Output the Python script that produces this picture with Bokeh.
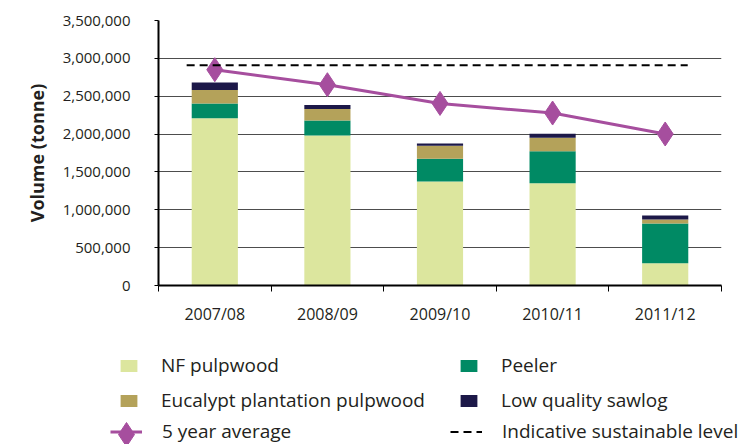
from bokeh.plotting import figure
from bokeh.models import (ColumnDataSource, FixedTicker, NumeralTickFormatter, Legend,
                          LegendItem, Range1d)
from bokeh.embed import file_html
from bokeh.resources import INLINE

# ---------------- data ----------------
years = ["2007/08", "2008/09", "2009/10", "2010/11", "2011/12"]
nf_pulpwood = [2210000, 1980000, 1372000, 1350000, 294000]
peeler = [195000, 200000, 303000, 422000, 524000]
eucalypt_pulpwood = [177000, 150000, 172000, 181000, 53000]
low_quality_sawlog = [100000, 53000, 30000, 52000, 52000]
five_year_average = [2850000, 2652000, 2405000, 2278000, 2001000]
sustainable_level = 2910000
y_ticks = [0, 500000, 1000000, 1500000, 2000000, 2500000, 3000000, 3500000]

series_names = ["NF pulpwood", "Peeler", "Eucalypt plantation pulpwood", "Low quality sawlog"]
line_names = ["5 year average", "Indicative sustainable level"]
colors = ["#DCE69E", "#008A64", "#B4A25A", "#1C1848"]
avg_color = "#A64E9E"
FONT = "Open Sans"
TXT = "#231F20"

xs = [i + 0.5 for i in range(len(years))]
source = ColumnDataSource(dict(x=xs, nf=nf_pulpwood, peel=peeler, euc=eucalypt_pulpwood,
                               low=low_quality_sawlog, avg=five_year_average))

W = 753
p = figure(width=W, height=330, output_backend="svg", toolbar_location=None,
           x_range=Range1d(0, len(years)), y_range=Range1d(y_ticks[0], y_ticks[-1]),
           min_border_left=158, min_border_right=32, min_border_top=20, min_border_bottom=45)
p.outline_line_color = None

bar_style = dict(width=0.41, line_color=None)
line_style = dict(line_color=avg_color, line_width=3)
marker_style = dict(marker="diamond", fill_color=avg_color, line_color=avg_color)
sus_style = dict(line_color="black", line_width=2, line_dash="8 5")


def draw(fig, marker_size):
    b = fig.vbar_stack(["nf", "peel", "euc", "low"], x="x", color=colors, source=source,
                       **bar_style)
    ln = fig.line("x", "avg", source=source, **line_style)
    mk = fig.scatter("x", "avg", source=source, size=marker_size, **marker_style)
    sg = fig.segment(x0=[xs[0] - 0.25], x1=[xs[-1] + 0.2], y0=[sustainable_level],
                     y1=[sustainable_level], **sus_style)
    return b, ln, mk, sg


draw(p, 24)

# ---------------- axes ----------------
xa = p.xaxis[0]
xa.ticker = FixedTicker(ticks=xs, minor_ticks=list(range(len(years) + 1)))
xa.major_label_overrides = {x: y for x, y in zip(xs, years)}
xa.major_tick_out = 0
xa.major_tick_in = 0
xa.minor_tick_out = 6
xa.minor_tick_in = 0
xa.minor_tick_line_color = "black"
xa.axis_line_color = "black"
xa.axis_line_width = 2
xa.major_label_standoff = 11
xa.major_label_text_font = FONT
xa.major_label_text_font_size = "16px"
xa.major_label_text_color = TXT

ya = p.yaxis[0]
ya.ticker = FixedTicker(ticks=y_ticks, minor_ticks=[])
ya.formatter = NumeralTickFormatter(format="0,0")
ya.major_tick_out = 4
ya.major_tick_in = 0
ya.major_tick_line_color = "black"
ya.axis_line_color = "black"
ya.axis_line_width = 2
ya.major_label_standoff = 24
ya.major_label_text_font = FONT
ya.major_label_text_font_size = "15px"
ya.major_label_text_color = TXT
ya.axis_label = "Volume (tonne)"
ya.axis_label_text_font = FONT
ya.axis_label_text_font_size = "18px"
ya.axis_label_text_font_style = "bold"
ya.axis_label_text_color = TXT
ya.axis_label_standoff = 11

p.xgrid.visible = False
p.ygrid.ticker = FixedTicker(ticks=y_ticks)
p.ygrid.grid_line_color = "#4d4d4d"
p.ygrid.grid_line_width = 1

# ---------------- legend panel (separate root, its data kept out of view) ----------------
LH = 114
lf = figure(width=W, height=LH, output_backend="svg", toolbar_location=None,
            x_axis_type=None, y_axis_type=None, min_border=0,
            x_range=Range1d(-20, -10), y_range=Range1d(-2e7, -1e7))
lf.outline_line_color = None
lf.grid.visible = False

lbars, lline, lmark, lsus = draw(lf, 24)


def make_legend(items, loc, gw, gh, standoff, lw):
    lg = Legend(items=items, location=loc, orientation="horizontal",
                glyph_width=gw, glyph_height=gh, label_standoff=standoff,
                label_width=lw, label_height=26, spacing=0, padding=0, margin=0,
                border_line_color=None, background_fill_alpha=0,
                label_text_font=FONT, label_text_font_size="19px",
                label_text_color=TXT)
    lf.add_layout(lg, "center")
    return lg


make_legend([LegendItem(label=series_names[0], renderers=[lbars[0]]),
             LegendItem(label=series_names[1], renderers=[lbars[1]])],
            (118, 66), 21, 15, 22, 297)
make_legend([LegendItem(label=series_names[2], renderers=[lbars[2]]),
             LegendItem(label=series_names[3], renderers=[lbars[3]])],
            (118, 31), 21, 15, 22, 297)
make_legend([LegendItem(label=line_names[0], renderers=[lline]),
             LegendItem(label=line_names[1], renderers=[lsus])],
            (110, 0), 32, 15, 20, 288)
make_legend([LegendItem(label=" ", renderers=[lmark])],
            (96, -20), 60, 60, 0, 0)

open("out.html", "w").write(file_html([p, lf], INLINE))
